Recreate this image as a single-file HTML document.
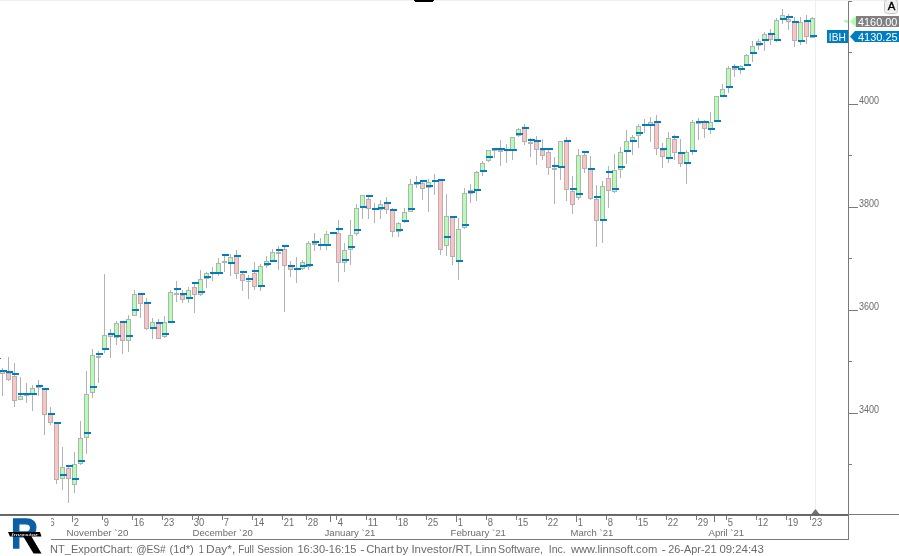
<!DOCTYPE html>
<html lang="en">
<head>
<meta charset="utf-8">
<title>NT_ExportChart: @ES# (1d*) 1 Day*</title>
<style>
html, body { margin: 0; padding: 0; background: #fff; }
body { width: 899px; height: 556px; overflow: hidden; }
svg { display: block; font-family: "Liberation Sans", sans-serif; }
</style>
</head>
<body>
<svg width="899" height="556" viewBox="0 0 899 556">
<rect x="0" y="0" width="899" height="556" fill="#fff"/>
<g shape-rendering="crispEdges">
<rect x="0" y="0" width="899" height="1" fill="#f0f0f0"/>
<rect x="414" y="0" width="20" height="1" fill="#000"/>
<rect x="415" y="1" width="18" height="1" fill="#000"/>
<rect x="815" y="1" width="1" height="508" fill="#eeeeee"/>
<rect x="2" y="368" width="1" height="28" fill="#b2b2b2"/>
<rect x="0" y="371" width="5" height="3" fill="#b2b2b2"/>
<rect x="1" y="372" width="3" height="1" fill="#ffc2c2"/>
<rect x="8" y="357" width="1" height="24" fill="#b2b2b2"/>
<rect x="6" y="373" width="5" height="7" fill="#b2b2b2"/>
<rect x="7" y="374" width="3" height="5" fill="#ffc2c2"/>
<rect x="14" y="363" width="1" height="44" fill="#b2b2b2"/>
<rect x="12" y="376" width="5" height="25" fill="#b2b2b2"/>
<rect x="13" y="377" width="3" height="23" fill="#ffc2c2"/>
<rect x="20" y="377" width="1" height="23" fill="#b2b2b2"/>
<rect x="18" y="396" width="5" height="4" fill="#b2b2b2"/>
<rect x="19" y="397" width="3" height="2" fill="#b2ffb2"/>
<rect x="26" y="383" width="1" height="20" fill="#b2b2b2"/>
<rect x="24" y="395" width="5" height="1" fill="#b2b2b2"/>
<rect x="32" y="385" width="1" height="26" fill="#b2b2b2"/>
<rect x="30" y="388" width="5" height="7" fill="#b2b2b2"/>
<rect x="31" y="389" width="3" height="5" fill="#b2ffb2"/>
<rect x="38" y="380" width="1" height="16" fill="#b2b2b2"/>
<rect x="36" y="387" width="5" height="1" fill="#b2b2b2"/>
<rect x="44" y="390" width="1" height="45" fill="#b2b2b2"/>
<rect x="42" y="389" width="5" height="26" fill="#b2b2b2"/>
<rect x="43" y="390" width="3" height="24" fill="#ffc2c2"/>
<rect x="50" y="407" width="1" height="18" fill="#b2b2b2"/>
<rect x="48" y="414" width="5" height="9" fill="#b2b2b2"/>
<rect x="49" y="415" width="3" height="7" fill="#ffc2c2"/>
<rect x="56" y="424" width="1" height="60" fill="#b2b2b2"/>
<rect x="54" y="423" width="5" height="57" fill="#b2b2b2"/>
<rect x="55" y="424" width="3" height="55" fill="#ffc2c2"/>
<rect x="62" y="447" width="1" height="43" fill="#b2b2b2"/>
<rect x="60" y="467" width="5" height="12" fill="#b2b2b2"/>
<rect x="61" y="468" width="3" height="10" fill="#b2ffb2"/>
<rect x="68" y="467" width="1" height="36" fill="#b2b2b2"/>
<rect x="66" y="468" width="5" height="11" fill="#b2b2b2"/>
<rect x="67" y="469" width="3" height="9" fill="#ffc2c2"/>
<rect x="74" y="452" width="1" height="41" fill="#b2b2b2"/>
<rect x="72" y="464" width="5" height="21" fill="#b2b2b2"/>
<rect x="73" y="465" width="3" height="19" fill="#b2ffb2"/>
<rect x="80" y="421" width="1" height="44" fill="#b2b2b2"/>
<rect x="78" y="438" width="5" height="26" fill="#b2b2b2"/>
<rect x="79" y="439" width="3" height="24" fill="#b2ffb2"/>
<rect x="86" y="371" width="1" height="83" fill="#b2b2b2"/>
<rect x="84" y="394" width="5" height="44" fill="#b2b2b2"/>
<rect x="85" y="395" width="3" height="42" fill="#b2ffb2"/>
<rect x="92" y="349" width="1" height="49" fill="#b2b2b2"/>
<rect x="90" y="355" width="5" height="38" fill="#b2b2b2"/>
<rect x="91" y="356" width="3" height="36" fill="#b2ffb2"/>
<rect x="98" y="351" width="1" height="32" fill="#b2b2b2"/>
<rect x="96" y="356" width="5" height="2" fill="#b2b2b2"/>
<rect x="104" y="274" width="1" height="79" fill="#b2b2b2"/>
<rect x="102" y="335" width="5" height="15" fill="#b2b2b2"/>
<rect x="103" y="336" width="3" height="13" fill="#b2ffb2"/>
<rect x="110" y="329" width="1" height="29" fill="#b2b2b2"/>
<rect x="108" y="334" width="5" height="3" fill="#b2b2b2"/>
<rect x="109" y="335" width="3" height="1" fill="#ffc2c2"/>
<rect x="116" y="321" width="1" height="24" fill="#b2b2b2"/>
<rect x="114" y="323" width="5" height="15" fill="#b2b2b2"/>
<rect x="115" y="324" width="3" height="13" fill="#b2ffb2"/>
<rect x="122" y="321" width="1" height="33" fill="#b2b2b2"/>
<rect x="120" y="322" width="5" height="19" fill="#b2b2b2"/>
<rect x="121" y="323" width="3" height="17" fill="#ffc2c2"/>
<rect x="128" y="315" width="1" height="37" fill="#b2b2b2"/>
<rect x="126" y="319" width="5" height="22" fill="#b2b2b2"/>
<rect x="127" y="320" width="3" height="20" fill="#b2ffb2"/>
<rect x="134" y="290" width="1" height="26" fill="#b2b2b2"/>
<rect x="132" y="294" width="5" height="22" fill="#b2b2b2"/>
<rect x="133" y="295" width="3" height="20" fill="#b2ffb2"/>
<rect x="140" y="293" width="1" height="25" fill="#b2b2b2"/>
<rect x="138" y="294" width="5" height="10" fill="#b2b2b2"/>
<rect x="139" y="295" width="3" height="8" fill="#ffc2c2"/>
<rect x="146" y="298" width="1" height="32" fill="#b2b2b2"/>
<rect x="144" y="303" width="5" height="26" fill="#b2b2b2"/>
<rect x="145" y="304" width="3" height="24" fill="#ffc2c2"/>
<rect x="152" y="318" width="1" height="21" fill="#b2b2b2"/>
<rect x="150" y="322" width="5" height="7" fill="#b2b2b2"/>
<rect x="151" y="323" width="3" height="5" fill="#b2ffb2"/>
<rect x="158" y="319" width="1" height="20" fill="#b2b2b2"/>
<rect x="156" y="323" width="5" height="16" fill="#b2b2b2"/>
<rect x="157" y="324" width="3" height="14" fill="#ffc2c2"/>
<rect x="164" y="316" width="1" height="22" fill="#b2b2b2"/>
<rect x="162" y="322" width="5" height="15" fill="#b2b2b2"/>
<rect x="163" y="323" width="3" height="13" fill="#b2ffb2"/>
<rect x="170" y="290" width="1" height="32" fill="#b2b2b2"/>
<rect x="168" y="292" width="5" height="30" fill="#b2b2b2"/>
<rect x="169" y="293" width="3" height="28" fill="#b2ffb2"/>
<rect x="176" y="281" width="1" height="21" fill="#b2b2b2"/>
<rect x="174" y="293" width="5" height="2" fill="#b2b2b2"/>
<rect x="182" y="290" width="1" height="13" fill="#b2b2b2"/>
<rect x="180" y="295" width="5" height="5" fill="#b2b2b2"/>
<rect x="181" y="296" width="3" height="3" fill="#ffc2c2"/>
<rect x="188" y="287" width="1" height="16" fill="#b2b2b2"/>
<rect x="186" y="290" width="5" height="9" fill="#b2b2b2"/>
<rect x="187" y="291" width="3" height="7" fill="#b2ffb2"/>
<rect x="194" y="282" width="1" height="31" fill="#b2b2b2"/>
<rect x="192" y="287" width="5" height="8" fill="#b2b2b2"/>
<rect x="193" y="288" width="3" height="6" fill="#ffc2c2"/>
<rect x="200" y="270" width="1" height="26" fill="#b2b2b2"/>
<rect x="198" y="279" width="5" height="16" fill="#b2b2b2"/>
<rect x="199" y="280" width="3" height="14" fill="#b2ffb2"/>
<rect x="206" y="272" width="1" height="16" fill="#b2b2b2"/>
<rect x="204" y="273" width="5" height="6" fill="#b2b2b2"/>
<rect x="205" y="274" width="3" height="4" fill="#b2ffb2"/>
<rect x="212" y="267" width="1" height="14" fill="#b2b2b2"/>
<rect x="210" y="273" width="5" height="1" fill="#b2b2b2"/>
<rect x="218" y="258" width="1" height="18" fill="#b2b2b2"/>
<rect x="216" y="263" width="5" height="10" fill="#b2b2b2"/>
<rect x="217" y="264" width="3" height="8" fill="#b2ffb2"/>
<rect x="224" y="254" width="1" height="18" fill="#b2b2b2"/>
<rect x="222" y="261" width="5" height="2" fill="#b2b2b2"/>
<rect x="230" y="254" width="1" height="22" fill="#b2b2b2"/>
<rect x="228" y="257" width="5" height="6" fill="#b2b2b2"/>
<rect x="229" y="258" width="3" height="4" fill="#b2ffb2"/>
<rect x="236" y="250" width="1" height="29" fill="#b2b2b2"/>
<rect x="234" y="256" width="5" height="18" fill="#b2b2b2"/>
<rect x="235" y="257" width="3" height="16" fill="#ffc2c2"/>
<rect x="242" y="271" width="1" height="20" fill="#b2b2b2"/>
<rect x="240" y="274" width="5" height="7" fill="#b2b2b2"/>
<rect x="241" y="275" width="3" height="5" fill="#ffc2c2"/>
<rect x="248" y="275" width="1" height="24" fill="#b2b2b2"/>
<rect x="246" y="281" width="5" height="1" fill="#b2b2b2"/>
<rect x="254" y="262" width="1" height="28" fill="#b2b2b2"/>
<rect x="252" y="273" width="5" height="14" fill="#b2b2b2"/>
<rect x="253" y="274" width="3" height="12" fill="#ffc2c2"/>
<rect x="260" y="264" width="1" height="27" fill="#b2b2b2"/>
<rect x="258" y="266" width="5" height="20" fill="#b2b2b2"/>
<rect x="259" y="267" width="3" height="18" fill="#b2ffb2"/>
<rect x="266" y="256" width="1" height="12" fill="#b2b2b2"/>
<rect x="264" y="261" width="5" height="5" fill="#b2b2b2"/>
<rect x="265" y="262" width="3" height="3" fill="#b2ffb2"/>
<rect x="272" y="249" width="1" height="13" fill="#b2b2b2"/>
<rect x="270" y="252" width="5" height="9" fill="#b2b2b2"/>
<rect x="271" y="253" width="3" height="7" fill="#b2ffb2"/>
<rect x="278" y="246" width="1" height="24" fill="#b2b2b2"/>
<rect x="276" y="252" width="5" height="2" fill="#b2b2b2"/>
<rect x="284" y="245" width="1" height="67" fill="#b2b2b2"/>
<rect x="282" y="249" width="5" height="17" fill="#b2b2b2"/>
<rect x="283" y="250" width="3" height="15" fill="#ffc2c2"/>
<rect x="290" y="261" width="1" height="16" fill="#b2b2b2"/>
<rect x="288" y="266" width="5" height="4" fill="#b2b2b2"/>
<rect x="289" y="267" width="3" height="2" fill="#ffc2c2"/>
<rect x="296" y="257" width="1" height="26" fill="#b2b2b2"/>
<rect x="294" y="269" width="5" height="1" fill="#b2b2b2"/>
<rect x="302" y="260" width="1" height="10" fill="#b2b2b2"/>
<rect x="300" y="262" width="5" height="7" fill="#b2b2b2"/>
<rect x="301" y="263" width="3" height="5" fill="#b2ffb2"/>
<rect x="308" y="241" width="1" height="29" fill="#b2b2b2"/>
<rect x="306" y="243" width="5" height="24" fill="#b2b2b2"/>
<rect x="307" y="244" width="3" height="22" fill="#b2ffb2"/>
<rect x="314" y="233" width="1" height="18" fill="#b2b2b2"/>
<rect x="312" y="243" width="5" height="2" fill="#b2b2b2"/>
<rect x="320" y="238" width="1" height="12" fill="#b2b2b2"/>
<rect x="318" y="245" width="5" height="1" fill="#b2b2b2"/>
<rect x="326" y="231" width="1" height="19" fill="#b2b2b2"/>
<rect x="324" y="234" width="5" height="11" fill="#b2b2b2"/>
<rect x="325" y="235" width="3" height="9" fill="#b2ffb2"/>
<rect x="338" y="220" width="1" height="62" fill="#b2b2b2"/>
<rect x="336" y="233" width="5" height="30" fill="#b2b2b2"/>
<rect x="337" y="234" width="3" height="28" fill="#ffc2c2"/>
<rect x="344" y="243" width="1" height="29" fill="#b2b2b2"/>
<rect x="342" y="250" width="5" height="13" fill="#b2b2b2"/>
<rect x="343" y="251" width="3" height="11" fill="#b2ffb2"/>
<rect x="350" y="220" width="1" height="45" fill="#b2b2b2"/>
<rect x="348" y="235" width="5" height="15" fill="#b2b2b2"/>
<rect x="349" y="236" width="3" height="13" fill="#b2ffb2"/>
<rect x="356" y="204" width="1" height="32" fill="#b2b2b2"/>
<rect x="354" y="208" width="5" height="26" fill="#b2b2b2"/>
<rect x="355" y="209" width="3" height="24" fill="#b2ffb2"/>
<rect x="362" y="195" width="1" height="24" fill="#b2b2b2"/>
<rect x="360" y="195" width="5" height="13" fill="#b2b2b2"/>
<rect x="361" y="196" width="3" height="11" fill="#b2ffb2"/>
<rect x="368" y="195" width="1" height="24" fill="#b2b2b2"/>
<rect x="366" y="199" width="5" height="10" fill="#b2b2b2"/>
<rect x="367" y="200" width="3" height="8" fill="#ffc2c2"/>
<rect x="374" y="203" width="1" height="20" fill="#b2b2b2"/>
<rect x="372" y="209" width="5" height="1" fill="#b2b2b2"/>
<rect x="380" y="200" width="1" height="19" fill="#b2b2b2"/>
<rect x="378" y="204" width="5" height="6" fill="#b2b2b2"/>
<rect x="379" y="205" width="3" height="4" fill="#b2ffb2"/>
<rect x="386" y="197" width="1" height="17" fill="#b2b2b2"/>
<rect x="384" y="203" width="5" height="7" fill="#b2b2b2"/>
<rect x="385" y="204" width="3" height="5" fill="#ffc2c2"/>
<rect x="392" y="208" width="1" height="29" fill="#b2b2b2"/>
<rect x="390" y="210" width="5" height="22" fill="#b2b2b2"/>
<rect x="391" y="211" width="3" height="20" fill="#ffc2c2"/>
<rect x="398" y="222" width="1" height="15" fill="#b2b2b2"/>
<rect x="396" y="223" width="5" height="9" fill="#b2b2b2"/>
<rect x="397" y="224" width="3" height="7" fill="#b2ffb2"/>
<rect x="404" y="208" width="1" height="15" fill="#b2b2b2"/>
<rect x="402" y="212" width="5" height="9" fill="#b2b2b2"/>
<rect x="403" y="213" width="3" height="7" fill="#b2ffb2"/>
<rect x="410" y="179" width="1" height="33" fill="#b2b2b2"/>
<rect x="408" y="184" width="5" height="28" fill="#b2b2b2"/>
<rect x="409" y="185" width="3" height="26" fill="#b2ffb2"/>
<rect x="416" y="176" width="1" height="12" fill="#b2b2b2"/>
<rect x="414" y="184" width="5" height="1" fill="#b2b2b2"/>
<rect x="422" y="180" width="1" height="20" fill="#b2b2b2"/>
<rect x="420" y="183" width="5" height="6" fill="#b2b2b2"/>
<rect x="421" y="184" width="3" height="4" fill="#ffc2c2"/>
<rect x="428" y="179" width="1" height="33" fill="#b2b2b2"/>
<rect x="426" y="182" width="5" height="6" fill="#b2b2b2"/>
<rect x="427" y="183" width="3" height="4" fill="#b2ffb2"/>
<rect x="434" y="174" width="1" height="21" fill="#b2b2b2"/>
<rect x="432" y="181" width="5" height="1" fill="#b2b2b2"/>
<rect x="440" y="179" width="1" height="76" fill="#b2b2b2"/>
<rect x="438" y="180" width="5" height="70" fill="#b2b2b2"/>
<rect x="439" y="181" width="3" height="68" fill="#ffc2c2"/>
<rect x="446" y="194" width="1" height="62" fill="#b2b2b2"/>
<rect x="444" y="216" width="5" height="30" fill="#b2b2b2"/>
<rect x="445" y="217" width="3" height="28" fill="#b2ffb2"/>
<rect x="452" y="216" width="1" height="49" fill="#b2b2b2"/>
<rect x="450" y="217" width="5" height="40" fill="#b2b2b2"/>
<rect x="451" y="218" width="3" height="38" fill="#ffc2c2"/>
<rect x="458" y="218" width="1" height="62" fill="#b2b2b2"/>
<rect x="456" y="229" width="5" height="32" fill="#b2b2b2"/>
<rect x="457" y="230" width="3" height="30" fill="#b2ffb2"/>
<rect x="464" y="188" width="1" height="41" fill="#b2b2b2"/>
<rect x="462" y="193" width="5" height="35" fill="#b2b2b2"/>
<rect x="463" y="194" width="3" height="33" fill="#b2ffb2"/>
<rect x="470" y="184" width="1" height="19" fill="#b2b2b2"/>
<rect x="468" y="190" width="5" height="4" fill="#b2b2b2"/>
<rect x="476" y="171" width="1" height="30" fill="#b2b2b2"/>
<rect x="474" y="172" width="5" height="18" fill="#b2b2b2"/>
<rect x="475" y="173" width="3" height="16" fill="#b2ffb2"/>
<rect x="482" y="161" width="1" height="15" fill="#b2b2b2"/>
<rect x="480" y="163" width="5" height="8" fill="#b2b2b2"/>
<rect x="481" y="164" width="3" height="6" fill="#b2ffb2"/>
<rect x="488" y="150" width="1" height="12" fill="#b2b2b2"/>
<rect x="486" y="150" width="5" height="11" fill="#b2b2b2"/>
<rect x="487" y="151" width="3" height="9" fill="#b2ffb2"/>
<rect x="494" y="148" width="1" height="10" fill="#b2b2b2"/>
<rect x="492" y="150" width="5" height="1" fill="#b2b2b2"/>
<rect x="500" y="140" width="1" height="26" fill="#b2b2b2"/>
<rect x="498" y="150" width="5" height="2" fill="#b2b2b2"/>
<rect x="506" y="144" width="1" height="19" fill="#b2b2b2"/>
<rect x="504" y="150" width="5" height="1" fill="#b2b2b2"/>
<rect x="512" y="137" width="1" height="23" fill="#b2b2b2"/>
<rect x="510" y="137" width="5" height="13" fill="#b2b2b2"/>
<rect x="511" y="138" width="3" height="11" fill="#b2ffb2"/>
<rect x="518" y="128" width="1" height="9" fill="#b2b2b2"/>
<rect x="516" y="129" width="5" height="7" fill="#b2b2b2"/>
<rect x="517" y="130" width="3" height="5" fill="#b2ffb2"/>
<rect x="524" y="124" width="1" height="21" fill="#b2b2b2"/>
<rect x="522" y="128" width="5" height="14" fill="#b2b2b2"/>
<rect x="523" y="129" width="3" height="12" fill="#ffc2c2"/>
<rect x="530" y="138" width="1" height="19" fill="#b2b2b2"/>
<rect x="528" y="142" width="5" height="2" fill="#b2b2b2"/>
<rect x="536" y="136" width="1" height="29" fill="#b2b2b2"/>
<rect x="534" y="141" width="5" height="9" fill="#b2b2b2"/>
<rect x="535" y="142" width="3" height="7" fill="#ffc2c2"/>
<rect x="542" y="139" width="1" height="21" fill="#b2b2b2"/>
<rect x="540" y="150" width="5" height="6" fill="#b2b2b2"/>
<rect x="541" y="151" width="3" height="4" fill="#ffc2c2"/>
<rect x="548" y="148" width="1" height="27" fill="#b2b2b2"/>
<rect x="546" y="152" width="5" height="16" fill="#b2b2b2"/>
<rect x="547" y="153" width="3" height="14" fill="#ffc2c2"/>
<rect x="554" y="157" width="1" height="47" fill="#b2b2b2"/>
<rect x="552" y="168" width="5" height="2" fill="#b2b2b2"/>
<rect x="560" y="141" width="1" height="39" fill="#b2b2b2"/>
<rect x="558" y="141" width="5" height="26" fill="#b2b2b2"/>
<rect x="559" y="142" width="3" height="24" fill="#b2ffb2"/>
<rect x="566" y="137" width="1" height="64" fill="#b2b2b2"/>
<rect x="564" y="141" width="5" height="49" fill="#b2b2b2"/>
<rect x="565" y="142" width="3" height="47" fill="#ffc2c2"/>
<rect x="572" y="176" width="1" height="38" fill="#b2b2b2"/>
<rect x="570" y="191" width="5" height="14" fill="#b2b2b2"/>
<rect x="571" y="192" width="3" height="12" fill="#ffc2c2"/>
<rect x="578" y="149" width="1" height="51" fill="#b2b2b2"/>
<rect x="576" y="155" width="5" height="43" fill="#b2b2b2"/>
<rect x="577" y="156" width="3" height="41" fill="#b2ffb2"/>
<rect x="584" y="151" width="1" height="22" fill="#b2b2b2"/>
<rect x="582" y="155" width="5" height="14" fill="#b2b2b2"/>
<rect x="583" y="156" width="3" height="12" fill="#ffc2c2"/>
<rect x="590" y="156" width="1" height="44" fill="#b2b2b2"/>
<rect x="588" y="169" width="5" height="30" fill="#b2b2b2"/>
<rect x="589" y="170" width="3" height="28" fill="#ffc2c2"/>
<rect x="596" y="185" width="1" height="62" fill="#b2b2b2"/>
<rect x="594" y="199" width="5" height="22" fill="#b2b2b2"/>
<rect x="595" y="200" width="3" height="20" fill="#ffc2c2"/>
<rect x="602" y="181" width="1" height="62" fill="#b2b2b2"/>
<rect x="600" y="186" width="5" height="34" fill="#b2b2b2"/>
<rect x="601" y="187" width="3" height="32" fill="#b2ffb2"/>
<rect x="608" y="166" width="1" height="42" fill="#b2b2b2"/>
<rect x="606" y="178" width="5" height="13" fill="#b2b2b2"/>
<rect x="607" y="179" width="3" height="11" fill="#ffc2c2"/>
<rect x="614" y="154" width="1" height="39" fill="#b2b2b2"/>
<rect x="612" y="170" width="5" height="22" fill="#b2b2b2"/>
<rect x="613" y="171" width="3" height="20" fill="#b2ffb2"/>
<rect x="620" y="147" width="1" height="31" fill="#b2b2b2"/>
<rect x="618" y="152" width="5" height="18" fill="#b2b2b2"/>
<rect x="619" y="153" width="3" height="16" fill="#b2ffb2"/>
<rect x="626" y="130" width="1" height="34" fill="#b2b2b2"/>
<rect x="624" y="141" width="5" height="10" fill="#b2b2b2"/>
<rect x="625" y="142" width="3" height="8" fill="#b2ffb2"/>
<rect x="632" y="135" width="1" height="20" fill="#b2b2b2"/>
<rect x="630" y="137" width="5" height="4" fill="#b2b2b2"/>
<rect x="631" y="138" width="3" height="2" fill="#b2ffb2"/>
<rect x="638" y="124" width="1" height="24" fill="#b2b2b2"/>
<rect x="636" y="126" width="5" height="10" fill="#b2b2b2"/>
<rect x="637" y="127" width="3" height="8" fill="#b2ffb2"/>
<rect x="644" y="119" width="1" height="14" fill="#b2b2b2"/>
<rect x="642" y="125" width="5" height="1" fill="#b2b2b2"/>
<rect x="650" y="117" width="1" height="25" fill="#b2b2b2"/>
<rect x="648" y="122" width="5" height="4" fill="#b2b2b2"/>
<rect x="649" y="123" width="3" height="2" fill="#b2ffb2"/>
<rect x="656" y="115" width="1" height="40" fill="#b2b2b2"/>
<rect x="654" y="122" width="5" height="27" fill="#b2b2b2"/>
<rect x="655" y="123" width="3" height="25" fill="#ffc2c2"/>
<rect x="662" y="143" width="1" height="25" fill="#b2b2b2"/>
<rect x="660" y="150" width="5" height="7" fill="#b2b2b2"/>
<rect x="661" y="151" width="3" height="5" fill="#ffc2c2"/>
<rect x="668" y="132" width="1" height="31" fill="#b2b2b2"/>
<rect x="666" y="138" width="5" height="20" fill="#b2b2b2"/>
<rect x="667" y="139" width="3" height="18" fill="#b2ffb2"/>
<rect x="674" y="135" width="1" height="25" fill="#b2b2b2"/>
<rect x="672" y="139" width="5" height="14" fill="#b2b2b2"/>
<rect x="673" y="140" width="3" height="12" fill="#ffc2c2"/>
<rect x="680" y="139" width="1" height="28" fill="#b2b2b2"/>
<rect x="678" y="153" width="5" height="11" fill="#b2b2b2"/>
<rect x="679" y="154" width="3" height="9" fill="#ffc2c2"/>
<rect x="686" y="150" width="1" height="34" fill="#b2b2b2"/>
<rect x="684" y="152" width="5" height="11" fill="#b2b2b2"/>
<rect x="685" y="153" width="3" height="9" fill="#b2ffb2"/>
<rect x="692" y="120" width="1" height="35" fill="#b2b2b2"/>
<rect x="690" y="122" width="5" height="29" fill="#b2b2b2"/>
<rect x="691" y="123" width="3" height="27" fill="#b2ffb2"/>
<rect x="698" y="118" width="1" height="22" fill="#b2b2b2"/>
<rect x="696" y="123" width="5" height="1" fill="#b2b2b2"/>
<rect x="704" y="120" width="1" height="18" fill="#b2b2b2"/>
<rect x="702" y="122" width="5" height="7" fill="#b2b2b2"/>
<rect x="703" y="123" width="3" height="5" fill="#ffc2c2"/>
<rect x="710" y="112" width="1" height="22" fill="#b2b2b2"/>
<rect x="708" y="122" width="5" height="7" fill="#b2b2b2"/>
<rect x="709" y="123" width="3" height="5" fill="#b2ffb2"/>
<rect x="716" y="96" width="1" height="25" fill="#b2b2b2"/>
<rect x="714" y="96" width="5" height="25" fill="#b2b2b2"/>
<rect x="715" y="97" width="3" height="23" fill="#b2ffb2"/>
<rect x="722" y="84" width="1" height="13" fill="#b2b2b2"/>
<rect x="720" y="89" width="5" height="7" fill="#b2b2b2"/>
<rect x="721" y="90" width="3" height="5" fill="#b2ffb2"/>
<rect x="728" y="66" width="1" height="27" fill="#b2b2b2"/>
<rect x="726" y="68" width="5" height="19" fill="#b2b2b2"/>
<rect x="727" y="69" width="3" height="17" fill="#b2ffb2"/>
<rect x="734" y="64" width="1" height="13" fill="#b2b2b2"/>
<rect x="732" y="68" width="5" height="2" fill="#b2b2b2"/>
<rect x="740" y="65" width="1" height="9" fill="#b2b2b2"/>
<rect x="738" y="66" width="5" height="3" fill="#b2b2b2"/>
<rect x="739" y="67" width="3" height="1" fill="#b2ffb2"/>
<rect x="746" y="54" width="1" height="12" fill="#b2b2b2"/>
<rect x="744" y="55" width="5" height="10" fill="#b2b2b2"/>
<rect x="745" y="56" width="3" height="8" fill="#b2ffb2"/>
<rect x="752" y="41" width="1" height="21" fill="#b2b2b2"/>
<rect x="750" y="46" width="5" height="7" fill="#b2b2b2"/>
<rect x="751" y="47" width="3" height="5" fill="#b2ffb2"/>
<rect x="758" y="39" width="1" height="11" fill="#b2b2b2"/>
<rect x="756" y="41" width="5" height="5" fill="#b2b2b2"/>
<rect x="757" y="42" width="3" height="3" fill="#b2ffb2"/>
<rect x="764" y="32" width="1" height="19" fill="#b2b2b2"/>
<rect x="762" y="34" width="5" height="6" fill="#b2b2b2"/>
<rect x="763" y="35" width="3" height="4" fill="#b2ffb2"/>
<rect x="770" y="29" width="1" height="16" fill="#b2b2b2"/>
<rect x="768" y="34" width="5" height="6" fill="#b2b2b2"/>
<rect x="769" y="35" width="3" height="4" fill="#ffc2c2"/>
<rect x="776" y="18" width="1" height="24" fill="#b2b2b2"/>
<rect x="774" y="20" width="5" height="20" fill="#b2b2b2"/>
<rect x="775" y="21" width="3" height="18" fill="#b2ffb2"/>
<rect x="782" y="9" width="1" height="15" fill="#b2b2b2"/>
<rect x="780" y="15" width="5" height="4" fill="#b2b2b2"/>
<rect x="781" y="16" width="3" height="2" fill="#b2ffb2"/>
<rect x="788" y="14" width="1" height="16" fill="#b2b2b2"/>
<rect x="786" y="19" width="5" height="3" fill="#b2b2b2"/>
<rect x="787" y="20" width="3" height="1" fill="#ffc2c2"/>
<rect x="794" y="17" width="1" height="30" fill="#b2b2b2"/>
<rect x="792" y="22" width="5" height="19" fill="#b2b2b2"/>
<rect x="793" y="23" width="3" height="17" fill="#ffc2c2"/>
<rect x="800" y="17" width="1" height="28" fill="#b2b2b2"/>
<rect x="798" y="22" width="5" height="19" fill="#b2b2b2"/>
<rect x="799" y="23" width="3" height="17" fill="#b2ffb2"/>
<rect x="806" y="15" width="1" height="29" fill="#b2b2b2"/>
<rect x="804" y="21" width="5" height="16" fill="#b2b2b2"/>
<rect x="805" y="22" width="3" height="14" fill="#ffc2c2"/>
<rect x="812" y="17" width="1" height="21" fill="#b2b2b2"/>
<rect x="810" y="18" width="5" height="20" fill="#b2b2b2"/>
<rect x="811" y="19" width="3" height="18" fill="#b2ffb2"/>
<rect x="0" y="358" width="1" height="1" fill="#007cc0"/>
<rect x="0" y="370" width="7" height="2" fill="#007cc0"/>
<rect x="6" y="371" width="7" height="2" fill="#007cc0"/>
<rect x="12" y="373" width="7" height="2" fill="#007cc0"/>
<rect x="18" y="393" width="7" height="2" fill="#007cc0"/>
<rect x="24" y="393" width="7" height="2" fill="#007cc0"/>
<rect x="30" y="393" width="7" height="2" fill="#007cc0"/>
<rect x="36" y="385" width="7" height="2" fill="#007cc0"/>
<rect x="42" y="388" width="7" height="2" fill="#007cc0"/>
<rect x="48" y="413" width="7" height="2" fill="#007cc0"/>
<rect x="54" y="422" width="7" height="2" fill="#007cc0"/>
<rect x="60" y="474" width="7" height="2" fill="#007cc0"/>
<rect x="66" y="465" width="7" height="2" fill="#007cc0"/>
<rect x="72" y="478" width="7" height="2" fill="#007cc0"/>
<rect x="78" y="460" width="7" height="2" fill="#007cc0"/>
<rect x="84" y="432" width="7" height="2" fill="#007cc0"/>
<rect x="90" y="386" width="7" height="2" fill="#007cc0"/>
<rect x="96" y="353" width="7" height="2" fill="#007cc0"/>
<rect x="102" y="348" width="7" height="2" fill="#007cc0"/>
<rect x="108" y="333" width="7" height="2" fill="#007cc0"/>
<rect x="114" y="335" width="7" height="2" fill="#007cc0"/>
<rect x="120" y="321" width="7" height="2" fill="#007cc0"/>
<rect x="126" y="335" width="7" height="2" fill="#007cc0"/>
<rect x="132" y="309" width="7" height="2" fill="#007cc0"/>
<rect x="138" y="293" width="7" height="2" fill="#007cc0"/>
<rect x="144" y="302" width="7" height="2" fill="#007cc0"/>
<rect x="150" y="327" width="7" height="2" fill="#007cc0"/>
<rect x="156" y="322" width="7" height="2" fill="#007cc0"/>
<rect x="162" y="333" width="7" height="2" fill="#007cc0"/>
<rect x="168" y="321" width="7" height="2" fill="#007cc0"/>
<rect x="174" y="288" width="7" height="2" fill="#007cc0"/>
<rect x="180" y="293" width="7" height="2" fill="#007cc0"/>
<rect x="186" y="297" width="7" height="2" fill="#007cc0"/>
<rect x="192" y="282" width="7" height="2" fill="#007cc0"/>
<rect x="198" y="291" width="7" height="2" fill="#007cc0"/>
<rect x="204" y="276" width="7" height="2" fill="#007cc0"/>
<rect x="210" y="272" width="7" height="2" fill="#007cc0"/>
<rect x="216" y="272" width="7" height="2" fill="#007cc0"/>
<rect x="222" y="254" width="7" height="2" fill="#007cc0"/>
<rect x="228" y="262" width="7" height="2" fill="#007cc0"/>
<rect x="234" y="255" width="7" height="2" fill="#007cc0"/>
<rect x="240" y="271" width="7" height="2" fill="#007cc0"/>
<rect x="246" y="278" width="7" height="2" fill="#007cc0"/>
<rect x="252" y="270" width="7" height="2" fill="#007cc0"/>
<rect x="258" y="285" width="7" height="2" fill="#007cc0"/>
<rect x="264" y="263" width="7" height="2" fill="#007cc0"/>
<rect x="270" y="260" width="7" height="2" fill="#007cc0"/>
<rect x="276" y="249" width="7" height="2" fill="#007cc0"/>
<rect x="282" y="245" width="7" height="2" fill="#007cc0"/>
<rect x="288" y="265" width="7" height="2" fill="#007cc0"/>
<rect x="294" y="268" width="7" height="2" fill="#007cc0"/>
<rect x="300" y="265" width="7" height="2" fill="#007cc0"/>
<rect x="306" y="264" width="7" height="2" fill="#007cc0"/>
<rect x="312" y="241" width="7" height="2" fill="#007cc0"/>
<rect x="318" y="244" width="7" height="2" fill="#007cc0"/>
<rect x="324" y="244" width="7" height="2" fill="#007cc0"/>
<rect x="330" y="232" width="7" height="2" fill="#007cc0"/>
<rect x="336" y="228" width="7" height="2" fill="#007cc0"/>
<rect x="342" y="259" width="7" height="2" fill="#007cc0"/>
<rect x="348" y="246" width="7" height="2" fill="#007cc0"/>
<rect x="354" y="229" width="7" height="2" fill="#007cc0"/>
<rect x="360" y="206" width="7" height="2" fill="#007cc0"/>
<rect x="366" y="195" width="7" height="2" fill="#007cc0"/>
<rect x="372" y="208" width="7" height="2" fill="#007cc0"/>
<rect x="378" y="207" width="7" height="2" fill="#007cc0"/>
<rect x="384" y="202" width="7" height="2" fill="#007cc0"/>
<rect x="390" y="209" width="7" height="2" fill="#007cc0"/>
<rect x="396" y="229" width="7" height="2" fill="#007cc0"/>
<rect x="402" y="220" width="7" height="2" fill="#007cc0"/>
<rect x="408" y="208" width="7" height="2" fill="#007cc0"/>
<rect x="414" y="182" width="7" height="2" fill="#007cc0"/>
<rect x="420" y="180" width="7" height="2" fill="#007cc0"/>
<rect x="426" y="185" width="7" height="2" fill="#007cc0"/>
<rect x="432" y="180" width="7" height="2" fill="#007cc0"/>
<rect x="438" y="179" width="7" height="2" fill="#007cc0"/>
<rect x="444" y="236" width="7" height="2" fill="#007cc0"/>
<rect x="450" y="216" width="7" height="2" fill="#007cc0"/>
<rect x="456" y="260" width="7" height="2" fill="#007cc0"/>
<rect x="462" y="224" width="7" height="2" fill="#007cc0"/>
<rect x="468" y="191" width="7" height="2" fill="#007cc0"/>
<rect x="474" y="189" width="7" height="2" fill="#007cc0"/>
<rect x="480" y="170" width="7" height="2" fill="#007cc0"/>
<rect x="486" y="156" width="7" height="2" fill="#007cc0"/>
<rect x="492" y="148" width="7" height="2" fill="#007cc0"/>
<rect x="498" y="148" width="7" height="2" fill="#007cc0"/>
<rect x="504" y="149" width="7" height="2" fill="#007cc0"/>
<rect x="510" y="149" width="7" height="2" fill="#007cc0"/>
<rect x="516" y="133" width="7" height="2" fill="#007cc0"/>
<rect x="522" y="127" width="7" height="2" fill="#007cc0"/>
<rect x="528" y="139" width="7" height="2" fill="#007cc0"/>
<rect x="534" y="140" width="7" height="2" fill="#007cc0"/>
<rect x="540" y="148" width="7" height="2" fill="#007cc0"/>
<rect x="546" y="148" width="7" height="2" fill="#007cc0"/>
<rect x="552" y="165" width="7" height="2" fill="#007cc0"/>
<rect x="558" y="166" width="7" height="2" fill="#007cc0"/>
<rect x="564" y="140" width="7" height="2" fill="#007cc0"/>
<rect x="570" y="188" width="7" height="2" fill="#007cc0"/>
<rect x="576" y="193" width="7" height="2" fill="#007cc0"/>
<rect x="582" y="151" width="7" height="2" fill="#007cc0"/>
<rect x="588" y="168" width="7" height="2" fill="#007cc0"/>
<rect x="594" y="196" width="7" height="2" fill="#007cc0"/>
<rect x="600" y="219" width="7" height="2" fill="#007cc0"/>
<rect x="606" y="171" width="7" height="2" fill="#007cc0"/>
<rect x="612" y="188" width="7" height="2" fill="#007cc0"/>
<rect x="618" y="166" width="7" height="2" fill="#007cc0"/>
<rect x="624" y="150" width="7" height="2" fill="#007cc0"/>
<rect x="630" y="140" width="7" height="2" fill="#007cc0"/>
<rect x="636" y="132" width="7" height="2" fill="#007cc0"/>
<rect x="642" y="124" width="7" height="2" fill="#007cc0"/>
<rect x="648" y="124" width="7" height="2" fill="#007cc0"/>
<rect x="654" y="121" width="7" height="2" fill="#007cc0"/>
<rect x="660" y="148" width="7" height="2" fill="#007cc0"/>
<rect x="666" y="157" width="7" height="2" fill="#007cc0"/>
<rect x="672" y="136" width="7" height="2" fill="#007cc0"/>
<rect x="678" y="152" width="7" height="2" fill="#007cc0"/>
<rect x="684" y="162" width="7" height="2" fill="#007cc0"/>
<rect x="690" y="150" width="7" height="2" fill="#007cc0"/>
<rect x="696" y="121" width="7" height="2" fill="#007cc0"/>
<rect x="702" y="121" width="7" height="2" fill="#007cc0"/>
<rect x="708" y="128" width="7" height="2" fill="#007cc0"/>
<rect x="714" y="120" width="7" height="2" fill="#007cc0"/>
<rect x="720" y="95" width="7" height="2" fill="#007cc0"/>
<rect x="726" y="86" width="7" height="2" fill="#007cc0"/>
<rect x="732" y="66" width="7" height="2" fill="#007cc0"/>
<rect x="738" y="68" width="7" height="2" fill="#007cc0"/>
<rect x="744" y="64" width="7" height="2" fill="#007cc0"/>
<rect x="750" y="52" width="7" height="2" fill="#007cc0"/>
<rect x="756" y="43" width="7" height="2" fill="#007cc0"/>
<rect x="762" y="39" width="7" height="2" fill="#007cc0"/>
<rect x="768" y="33" width="7" height="2" fill="#007cc0"/>
<rect x="774" y="39" width="7" height="2" fill="#007cc0"/>
<rect x="780" y="18" width="7" height="2" fill="#007cc0"/>
<rect x="786" y="16" width="7" height="2" fill="#007cc0"/>
<rect x="792" y="21" width="7" height="2" fill="#007cc0"/>
<rect x="798" y="40" width="7" height="2" fill="#007cc0"/>
<rect x="804" y="20" width="7" height="2" fill="#007cc0"/>
<rect x="810" y="35" width="7" height="2" fill="#007cc0"/>
<rect x="0" y="514" width="849" height="1" fill="#626262"/>
<rect x="0" y="515" width="849" height="1" fill="#6e6e6e"/>
<rect x="849" y="514" width="50" height="1" fill="#7a7a7a"/>
<rect x="848" y="1" width="1" height="539" fill="#7a7a7a"/>
<rect x="849" y="1" width="3" height="1" fill="#7a7a7a"/>
<rect x="51" y="539" width="798" height="1" fill="#7a7a7a"/>
<rect x="849" y="104" width="9" height="1" fill="#7a7a7a"/>
<rect x="849" y="207" width="9" height="1" fill="#7a7a7a"/>
<rect x="849" y="310" width="9" height="1" fill="#7a7a7a"/>
<rect x="849" y="413" width="9" height="1" fill="#7a7a7a"/>
<rect x="849" y="52" width="3" height="1" fill="#7a7a7a"/>
<rect x="849" y="155" width="3" height="1" fill="#7a7a7a"/>
<rect x="849" y="258" width="3" height="1" fill="#7a7a7a"/>
<rect x="849" y="361" width="3" height="1" fill="#7a7a7a"/>
<rect x="849" y="464" width="3" height="1" fill="#7a7a7a"/>
<rect x="72" y="516" width="1" height="4" fill="#7a7a7a"/>
<rect x="102" y="516" width="1" height="4" fill="#7a7a7a"/>
<rect x="132" y="516" width="1" height="4" fill="#7a7a7a"/>
<rect x="162" y="516" width="1" height="4" fill="#7a7a7a"/>
<rect x="192" y="516" width="1" height="4" fill="#7a7a7a"/>
<rect x="222" y="516" width="1" height="4" fill="#7a7a7a"/>
<rect x="252" y="516" width="1" height="4" fill="#7a7a7a"/>
<rect x="282" y="516" width="1" height="4" fill="#7a7a7a"/>
<rect x="306" y="516" width="1" height="4" fill="#7a7a7a"/>
<rect x="336" y="516" width="1" height="4" fill="#7a7a7a"/>
<rect x="366" y="516" width="1" height="4" fill="#7a7a7a"/>
<rect x="396" y="516" width="1" height="4" fill="#7a7a7a"/>
<rect x="426" y="516" width="1" height="4" fill="#7a7a7a"/>
<rect x="456" y="516" width="1" height="4" fill="#7a7a7a"/>
<rect x="486" y="516" width="1" height="4" fill="#7a7a7a"/>
<rect x="516" y="516" width="1" height="4" fill="#7a7a7a"/>
<rect x="546" y="516" width="1" height="4" fill="#7a7a7a"/>
<rect x="576" y="516" width="1" height="4" fill="#7a7a7a"/>
<rect x="606" y="516" width="1" height="4" fill="#7a7a7a"/>
<rect x="636" y="516" width="1" height="4" fill="#7a7a7a"/>
<rect x="666" y="516" width="1" height="4" fill="#7a7a7a"/>
<rect x="696" y="516" width="1" height="4" fill="#7a7a7a"/>
<rect x="726" y="516" width="1" height="4" fill="#7a7a7a"/>
<rect x="756" y="516" width="1" height="4" fill="#7a7a7a"/>
<rect x="786" y="516" width="1" height="4" fill="#7a7a7a"/>
<rect x="810" y="516" width="1" height="4" fill="#7a7a7a"/>
<rect x="72" y="516" width="1" height="6" fill="#7a7a7a"/>
<rect x="198" y="516" width="1" height="4" fill="#7a7a7a"/>
<rect x="330" y="516" width="1" height="6" fill="#7a7a7a"/>
<rect x="456" y="516" width="1" height="6" fill="#7a7a7a"/>
<rect x="576" y="516" width="1" height="6" fill="#7a7a7a"/>
<rect x="714" y="516" width="1" height="6" fill="#7a7a7a"/>
<polygon points="815.5,509 819.5,514 811.5,514" fill="#707070" shape-rendering="geometricPrecision"/>
</g>
<g>
<text x="44.2" y="525.9" font-size="10.2" fill="#6c6c6c" textLength="10.4" lengthAdjust="spacingAndGlyphs">26</text>
</g>
<g>
<rect x="0" y="516" width="51" height="40" fill="#fff"/>
<text x="11.1" y="547.9" font-size="43.2" font-weight="bold" fill="#0a5fa5" stroke="#0a5fa5" stroke-width="1.3" stroke-linejoin="miter" textLength="27" lengthAdjust="spacingAndGlyphs">R</text>
<polygon points="23,536 31,536 41.5,553.5 33.5,553.5" fill="#000"/>
<polygon points="8,532 40,532 41.5,536.5 10,536.5" fill="#000"/>
<text x="11.5" y="536" font-size="4.4" font-style="italic" font-weight="bold" fill="#fff" fill-opacity="0.85" textLength="26.5" lengthAdjust="spacingAndGlyphs">Investor</text>
</g>
<g>
<text x="859" y="103.7" font-size="10.4" fill="#6c6c6c" textLength="20" lengthAdjust="spacingAndGlyphs">4000</text>
<text x="859" y="206.7" font-size="10.4" fill="#6c6c6c" textLength="20" lengthAdjust="spacingAndGlyphs">3800</text>
<text x="859" y="309.7" font-size="10.4" fill="#6c6c6c" textLength="20" lengthAdjust="spacingAndGlyphs">3600</text>
<text x="859" y="412.7" font-size="10.4" fill="#6c6c6c" textLength="20" lengthAdjust="spacingAndGlyphs">3400</text>
<text x="73.8" y="525.9" font-size="10.2" fill="#6c6c6c" textLength="5.2" lengthAdjust="spacingAndGlyphs">2</text>
<text x="103.8" y="525.9" font-size="10.2" fill="#6c6c6c" textLength="5.2" lengthAdjust="spacingAndGlyphs">9</text>
<text x="133.8" y="525.9" font-size="10.2" fill="#6c6c6c" textLength="10.4" lengthAdjust="spacingAndGlyphs">16</text>
<text x="163.8" y="525.9" font-size="10.2" fill="#6c6c6c" textLength="10.4" lengthAdjust="spacingAndGlyphs">23</text>
<text x="193.8" y="525.9" font-size="10.2" fill="#6c6c6c" textLength="10.4" lengthAdjust="spacingAndGlyphs">30</text>
<text x="223.8" y="525.9" font-size="10.2" fill="#6c6c6c" textLength="5.2" lengthAdjust="spacingAndGlyphs">7</text>
<text x="253.8" y="525.9" font-size="10.2" fill="#6c6c6c" textLength="10.4" lengthAdjust="spacingAndGlyphs">14</text>
<text x="283.8" y="525.9" font-size="10.2" fill="#6c6c6c" textLength="10.4" lengthAdjust="spacingAndGlyphs">21</text>
<text x="307.8" y="525.9" font-size="10.2" fill="#6c6c6c" textLength="10.4" lengthAdjust="spacingAndGlyphs">28</text>
<text x="337.8" y="525.9" font-size="10.2" fill="#6c6c6c" textLength="5.2" lengthAdjust="spacingAndGlyphs">4</text>
<text x="367.8" y="525.9" font-size="10.2" fill="#6c6c6c" textLength="10.4" lengthAdjust="spacingAndGlyphs">11</text>
<text x="397.8" y="525.9" font-size="10.2" fill="#6c6c6c" textLength="10.4" lengthAdjust="spacingAndGlyphs">18</text>
<text x="427.8" y="525.9" font-size="10.2" fill="#6c6c6c" textLength="10.4" lengthAdjust="spacingAndGlyphs">25</text>
<text x="457.8" y="525.9" font-size="10.2" fill="#6c6c6c" textLength="5.2" lengthAdjust="spacingAndGlyphs">1</text>
<text x="487.8" y="525.9" font-size="10.2" fill="#6c6c6c" textLength="5.2" lengthAdjust="spacingAndGlyphs">8</text>
<text x="517.8" y="525.9" font-size="10.2" fill="#6c6c6c" textLength="10.4" lengthAdjust="spacingAndGlyphs">15</text>
<text x="547.8" y="525.9" font-size="10.2" fill="#6c6c6c" textLength="10.4" lengthAdjust="spacingAndGlyphs">22</text>
<text x="577.8" y="525.9" font-size="10.2" fill="#6c6c6c" textLength="5.2" lengthAdjust="spacingAndGlyphs">1</text>
<text x="607.8" y="525.9" font-size="10.2" fill="#6c6c6c" textLength="5.2" lengthAdjust="spacingAndGlyphs">8</text>
<text x="637.8" y="525.9" font-size="10.2" fill="#6c6c6c" textLength="10.4" lengthAdjust="spacingAndGlyphs">15</text>
<text x="667.8" y="525.9" font-size="10.2" fill="#6c6c6c" textLength="10.4" lengthAdjust="spacingAndGlyphs">22</text>
<text x="697.8" y="525.9" font-size="10.2" fill="#6c6c6c" textLength="10.4" lengthAdjust="spacingAndGlyphs">29</text>
<text x="727.8" y="525.9" font-size="10.2" fill="#6c6c6c" textLength="5.2" lengthAdjust="spacingAndGlyphs">5</text>
<text x="757.8" y="525.9" font-size="10.2" fill="#6c6c6c" textLength="10.4" lengthAdjust="spacingAndGlyphs">12</text>
<text x="787.8" y="525.9" font-size="10.2" fill="#6c6c6c" textLength="10.4" lengthAdjust="spacingAndGlyphs">19</text>
<text x="811.8" y="525.9" font-size="10.2" fill="#6c6c6c" textLength="10.4" lengthAdjust="spacingAndGlyphs">23</text>
<text x="66.5" y="536" font-size="9.9" fill="#6c6c6c" textLength="62.0" lengthAdjust="spacingAndGlyphs">November `20</text>
<text x="192.5" y="536" font-size="9.9" fill="#6c6c6c" textLength="60.4" lengthAdjust="spacingAndGlyphs">December `20</text>
<text x="324.5" y="536" font-size="9.9" fill="#6c6c6c" textLength="51.0" lengthAdjust="spacingAndGlyphs">January `21</text>
<text x="450.5" y="536" font-size="9.9" fill="#6c6c6c" textLength="55.4" lengthAdjust="spacingAndGlyphs">February `21</text>
<text x="570.5" y="536" font-size="9.9" fill="#6c6c6c" textLength="42.7" lengthAdjust="spacingAndGlyphs">March `21</text>
<text x="708.5" y="536" font-size="9.9" fill="#6c6c6c" textLength="35.7" lengthAdjust="spacingAndGlyphs">April `21</text>
<text id="footer" y="553" font-size="11.3" fill="#6a6a6a"><tspan class="seg" x="50.1" textLength="82.8" lengthAdjust="spacingAndGlyphs">NT_ExportChart:</tspan> <tspan class="seg" x="136.2" textLength="29.6" lengthAdjust="spacingAndGlyphs">@ES#</tspan> <tspan class="seg" x="169.4" textLength="24.4" lengthAdjust="spacingAndGlyphs">(1d*)</tspan> <tspan class="seg" x="198.8" textLength="5.0" lengthAdjust="spacingAndGlyphs">1</tspan> <tspan class="seg" x="206.1" textLength="29.1" lengthAdjust="spacingAndGlyphs">Day*,</tspan> <tspan class="seg" x="238.2" textLength="15.7" lengthAdjust="spacingAndGlyphs">Full</tspan> <tspan class="seg" x="257.3" textLength="35.8" lengthAdjust="spacingAndGlyphs">Session</tspan> <tspan class="seg" x="297.4" textLength="59.1" lengthAdjust="spacingAndGlyphs">16:30-16:15</tspan> <tspan class="seg" x="360.2" textLength="4.3" lengthAdjust="spacingAndGlyphs">-</tspan> <tspan class="seg" x="366.2" textLength="27.6" lengthAdjust="spacingAndGlyphs">Chart</tspan> <tspan class="seg" x="396.1" textLength="12.3" lengthAdjust="spacingAndGlyphs">by</tspan> <tspan class="seg" x="411.4" textLength="61.1" lengthAdjust="spacingAndGlyphs">Investor/RT,</tspan> <tspan class="seg" x="475.5" textLength="20.9" lengthAdjust="spacingAndGlyphs">Linn</tspan> <tspan class="seg" x="498.1" textLength="45.0" lengthAdjust="spacingAndGlyphs">Software,</tspan> <tspan class="seg" x="548.8" textLength="17.0" lengthAdjust="spacingAndGlyphs">Inc.</tspan> <tspan class="seg" x="570.9" textLength="86.3" lengthAdjust="spacingAndGlyphs">www.linnsoft.com</tspan> <tspan class="seg" x="661.4" textLength="4.4" lengthAdjust="spacingAndGlyphs">-</tspan> <tspan class="seg" x="668.2" textLength="48.5" lengthAdjust="spacingAndGlyphs">26-Apr-21</tspan> <tspan class="seg" x="719.4" textLength="44.4" lengthAdjust="spacingAndGlyphs">09:24:43</tspan></text>
</g>
<g>
<polygon points="850,21.5 856,16 856,27" fill="#aaffaa"/>
<rect x="856" y="16" width="43" height="11" fill="#808080" shape-rendering="crispEdges"/>
<rect x="844" y="20" width="4" height="2" fill="#aaffaa" shape-rendering="crispEdges"/>
<rect x="846" y="22" width="2" height="1" fill="#aaffaa" shape-rendering="crispEdges"/>
<text x="858" y="26.1" font-size="10.8" fill="#fff" textLength="39.3" lengthAdjust="spacingAndGlyphs">4160.00</text>
<rect x="827" y="30" width="21" height="13" fill="#007cc0" shape-rendering="crispEdges"/>
<text x="828.8" y="41.1" font-size="10.8" fill="#fff" textLength="17" lengthAdjust="spacingAndGlyphs">IBH</text>
<polygon points="850,36.5 855,31 899,31 899,42 855,42" fill="#007cc0"/>
<text x="858" y="41.1" font-size="10.8" fill="#fff" textLength="39.6" lengthAdjust="spacingAndGlyphs">4130.25</text>
<rect x="884.5" y="-0.5" width="13" height="14" rx="3" fill="#f0f0f0" stroke="#c8c8c8"/>
<text x="887.7" y="9.8" font-size="10" fill="#000" stroke="#000" stroke-width="0.35" textLength="7.6" lengthAdjust="spacingAndGlyphs">A</text>
</g>
</svg>
</body>
</html>
